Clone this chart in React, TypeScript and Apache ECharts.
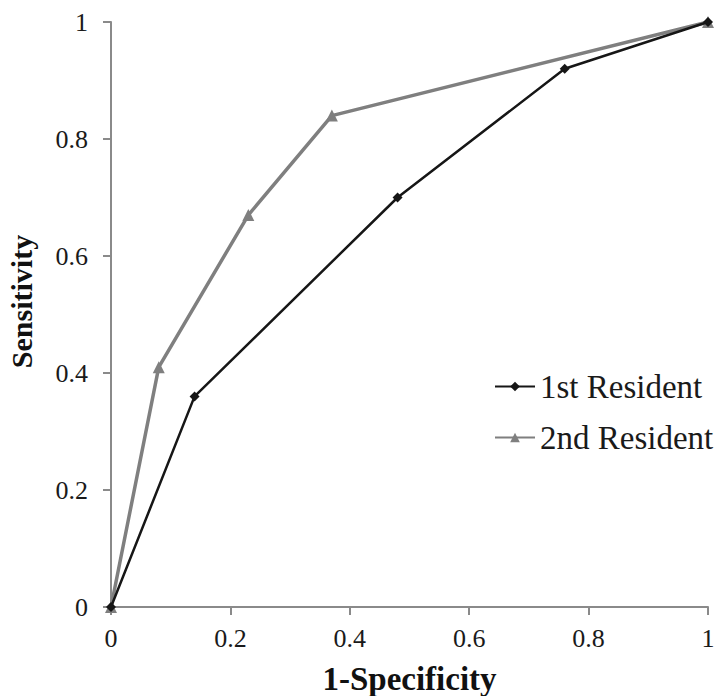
import React, { useEffect, useRef } from "react";
import * as echarts from "echarts";

const xTicks = [0, 0.2, 0.4, 0.6, 0.8, 1];
const resident1X = [0, 0.14, 0.48, 0.76, 1];
const resident1Y = [0, 0.36, 0.70, 0.92, 1];
const resident2X = [0, 0.08, 0.23, 0.37, 1];
const resident2Y = [0, 0.41, 0.67, 0.84, 1];
const seriesNames = ["1st Resident", "2nd Resident"];

const FONT = "Liberation Serif";

export default function App() {
  const ref = useRef<HTMLDivElement>(null);
  useEffect(() => {
    document.body.style.margin = "0";
    const chart = echarts.init(ref.current!, null, { renderer: "svg" });
    const axisCommon = {
      type: "value" as const,
      min: 0,
      max: 1,
      interval: 0.2,
      splitLine: { show: false },
      axisLine: { show: true, lineStyle: { color: "#8a8a8a", width: 2 } },
      axisTick: { show: true, inside: false, length: 8, lineStyle: { color: "#8a8a8a", width: 2 } },
      axisLabel: { color: "#1a1a1a", fontFamily: FONT, fontSize: 26 },
      nameLocation: "middle" as const,
    };
    chart.setOption({
      animation: false,
      backgroundColor: "#ffffff",
      grid: { left: 111, right: 19, top: 22, bottom: 89, containLabel: false, outerBoundsMode: "none" },
      legend: {
        orient: "vertical",
        left: 494,
        top: 370,
        padding: 0,
        itemWidth: 40,
        itemHeight: 12,
        itemGap: 18,
        data: seriesNames,
        textStyle: { color: "#1a1a1a", fontFamily: FONT, fontSize: 33 },
      },
      xAxis: {
        ...axisCommon,
        name: "1-Specificity",
        nameGap: 55,
        nameTextStyle: { color: "#111", fontFamily: FONT, fontSize: 33, fontWeight: "bold" },
        axisLabel: { ...axisCommon.axisLabel, margin: 18 },
      },
      yAxis: {
        ...axisCommon,
        name: "Sensitivity",
        nameGap: 75,
        nameRotate: 90,
        nameTextStyle: {
          color: "#111",
          fontFamily: FONT,
          fontSize: 30,
          fontWeight: "bold",
          padding: [0, 0, 0, 26],
        },
        axisLabel: { ...axisCommon.axisLabel, margin: 23 },
      },
      series: [
        {
          name: seriesNames[0],
          type: "line",
          data: resident1X.map((x, i) => [x, resident1Y[i]]),
          symbol: "diamond",
          symbolSize: 10,
          lineStyle: { color: "#161616", width: 2.5 },
          itemStyle: { color: "#161616" },
          z: 3,
        },
        {
          name: seriesNames[1],
          type: "line",
          data: resident2X.map((x, i) => [x, resident2Y[i]]),
          symbol: "triangle",
          symbolSize: 12,
          lineStyle: { color: "#7f7f7f", width: 3.5 },
          itemStyle: { color: "#7f7f7f" },
          z: 2,
        },
      ],
    });
    return () => chart.dispose();
  }, []);
  return <div ref={ref} style={{ width: 727, height: 696 }} />;
}
